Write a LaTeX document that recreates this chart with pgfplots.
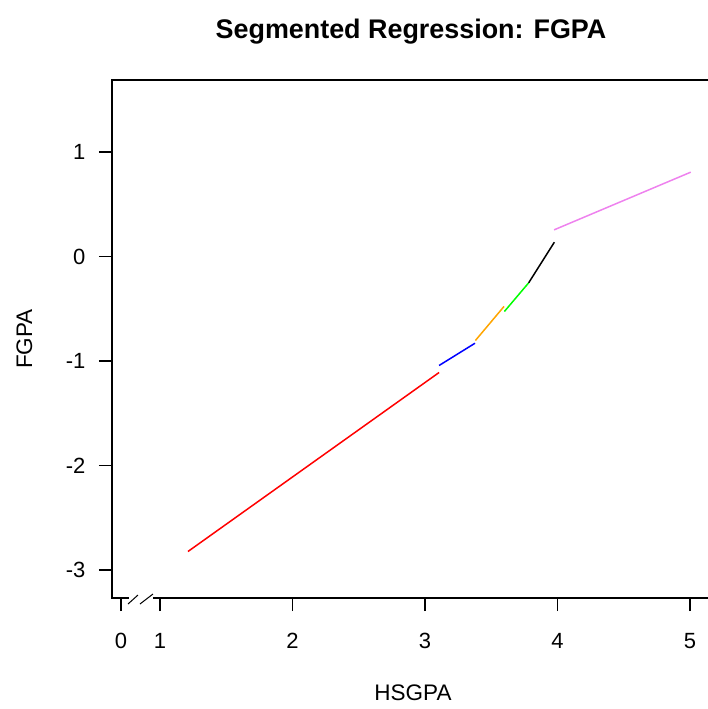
\documentclass[border=0pt]{standalone}
\usepackage{fontspec}
\setmainfont{Liberation Sans}
\usepackage{pgfplots}
\pgfplotsset{compat=1.18}
\definecolor{rgreen}{HTML}{00FF00}
\definecolor{rviolet}{HTML}{EE82EE}
\definecolor{rorange}{HTML}{FFA500}
\begin{document}
\begin{tikzpicture}[x=1pt,y=1pt]
\useasboundingbox (0,0) rectangle (707,-709);
\begin{axis}[
  scale only axis,
  width=597pt, height=518pt,
  at={(112pt,-598pt)}, anchor=south west,
  xmin=0.6377, xmax=5.143,
  ymin=-3.268, ymax=1.689,
  axis line style={line width=1.3pt},
  tick pos=left,
  tick align=outside,
  major tick length=13pt,
  every tick/.style={line width=1.3pt, black},
  xtick={0.7057,1,2,3,4,5},
  xticklabels={0,1,2,3,4,5},
  ytick={-3,-2,-1,0,1},
  yticklabels={-3,-2,-1,0,1},
  tick label style={font=\fontsize{22}{26}\selectfont},
  xticklabel style={yshift=-19pt},
  yticklabel style={xshift=-10pt},
  clip=true,
]
% fitted segments of FGPA on HSGPA
\addplot[red, line width=1.5pt] coordinates {(1.211,-2.823) (3.106,-1.110)};
\addplot[blue, line width=1.5pt] coordinates {(3.106,-1.043) (3.377,-0.830)};
\addplot[rorange, line width=1.5pt] coordinates {(3.380,-0.804) (3.596,-0.478)};
\addplot[rgreen, line width=1.5pt] coordinates {(3.599,-0.526) (3.782,-0.252)};
\addplot[black, line width=1.5pt] coordinates {(3.782,-0.252) (3.976,0.137)};
\addplot[rviolet, line width=1.5pt] coordinates {(3.974,0.255) (5.005,0.807)};
\end{axis}
% axis break on the x axis
\fill[white] (128.5,-594) rectangle (152.5,-603);
\draw[line width=1pt] (128,-604) -- (138,-595);
\draw[line width=1pt] (140,-604) -- (153,-594);
% titles
\node[anchor=base, font=\bfseries\fontsize{26.9}{32}\selectfont] at (411,-38) {Segmented Regression: FGPA};
\node[anchor=base, font=\fontsize{22.5}{27}\selectfont] at (413,-700) {HSGPA};
\node[anchor=base, rotate=90, font=\fontsize{22.5}{27}\selectfont] at (32,-339) {FGPA};
\end{tikzpicture}
\end{document}
